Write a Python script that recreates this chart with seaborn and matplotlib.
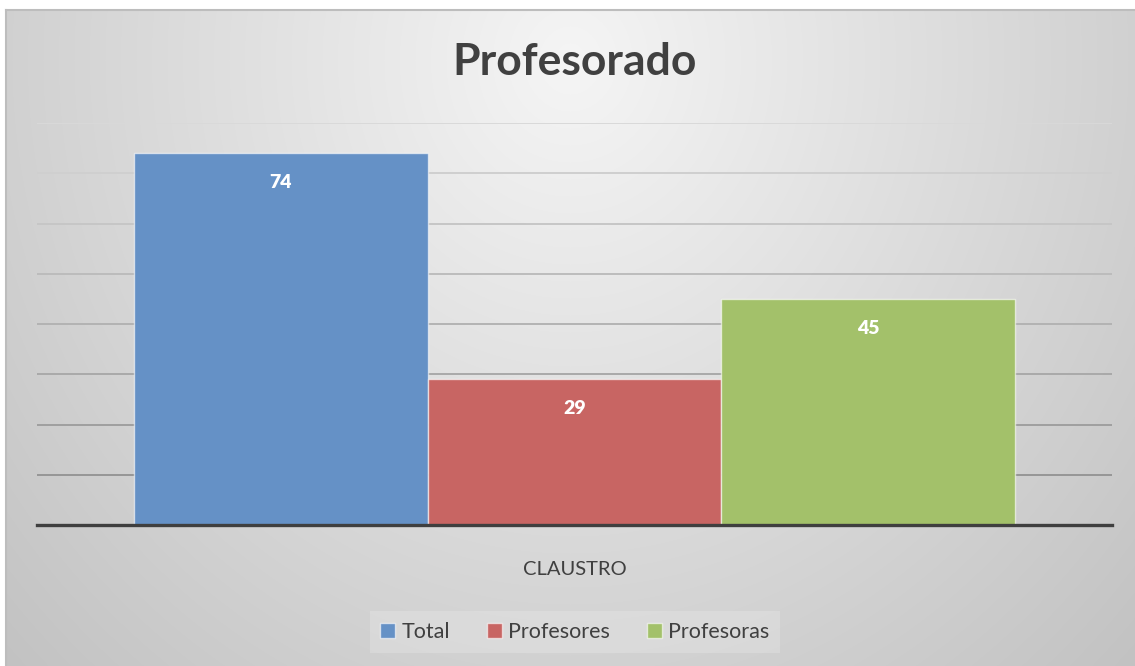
import numpy as np
import pandas as pd
import matplotlib
matplotlib.use("Agg")
import matplotlib.pyplot as plt
import seaborn as sns

sns.set_theme(style="white")
plt.rcParams['font.family'] = ['Lato', 'DejaVu Sans']

# data
categoria = ["CLAUSTRO"]
series = ["Total", "Profesores", "Profesoras"]
valores = [74, 29, 45]
colores = ["#6591c6", "#c86563", "#a3c16a"]

df = pd.DataFrame({"grupo": categoria * len(series), "serie": series, "valor": valores})

W, H = 1135, 666
fig = plt.figure(figsize=(W / 100, H / 100), dpi=100)
fig.patch.set_facecolor("white")

# radial grey background of the chart area
bx0, by0, bx1, by1 = 6, 10, 1135, 666
gw, gh = bx1 - bx0, by1 - by0
yy, xx = np.mgrid[0:gh, 0:gw]
r = np.sqrt(((xx + bx0 - 570) / 620.0) ** 2 + ((yy + by0 - 60) / 680.0) ** 2)
shade = np.clip(245 - 40 * r, 192, 245) / 255.0
bg = fig.add_axes([bx0 / W, 1 - by1 / H, gw / W, gh / H], zorder=-1)
bg.imshow(np.dstack([shade] * 3), aspect="auto", extent=[0, 1, 0, 1], interpolation="bilinear")
bg.set_xticks([])
bg.set_yticks([])
for side in ["right", "bottom"]:
    bg.spines[side].set_visible(False)
for side in ["top", "left"]:
    bg.spines[side].set_color("#bdbdbd")
    bg.spines[side].set_linewidth(1.5)

# main axes
ax = fig.add_axes([37 / W, 1 - 525 / H, (1112 - 37) / W, (525 - 123) / H])
ax.set_facecolor("none")
sns.barplot(data=df, x="grupo", y="valor", hue="serie", palette=colores,
            saturation=1, width=0.82, ax=ax, legend=False, zorder=2,
            edgecolor=(1, 1, 1, 0.6), linewidth=1)

ax.set_ylim(0, 80)
ax.set_xlim(-0.5, 0.5)
ax.set_yticks(np.arange(0, 90, 10))
ax.set_yticklabels([])
ax.grid(axis="y", linewidth=1.4)
ax.set_axisbelow(True)
grid_greys = np.linspace(0.55, 0.85, 9)
for g, c in zip(ax.get_ygridlines(), grid_greys):
    g.set_color(str(c))
ax.set_xlabel("")
ax.set_ylabel("")
ax.tick_params(axis="both", length=0)
ax.tick_params(axis="x", pad=26, labelsize=14.5, labelcolor="#404040")
for side in ["top", "left", "right"]:
    ax.spines[side].set_visible(False)
ax.spines["bottom"].set_color("#3f3f3f")
ax.spines["bottom"].set_linewidth(2.4)
ax.spines["bottom"].set_zorder(3)

# value labels inside the bars
for p in ax.patches:
    h = p.get_height()
    ax.annotate(f"{h:.0f}", (p.get_x() + p.get_width() / 2, h),
                xytext=(0, -21), textcoords="offset points",
                ha="center", va="center", color="white",
                fontsize=14, fontweight="heavy", zorder=4)

fig.text(575 / W, 1 - 62 / H, "Profesorado", ha="center", va="center",
         fontsize=32, fontweight="bold", color="#404040")

handles = [plt.Rectangle((0, 0), 1, 1, facecolor=c, edgecolor=(1, 1, 1, 0.6)) for c in colores]
leg = fig.legend(handles, series, loc="center", bbox_to_anchor=(575 / W, 1 - 632 / H),
                 ncol=3, frameon=True, fontsize=15.5, handlelength=0.7, handleheight=0.7,
                 handletextpad=0.3, columnspacing=1.7, borderpad=0.5,
                 facecolor="white", framealpha=0.18, edgecolor="none")
leg.get_frame().set_boxstyle("square", pad=0)
for t in leg.get_texts():
    t.set_color("#404040")

fig.savefig("out.png", dpi=100)
